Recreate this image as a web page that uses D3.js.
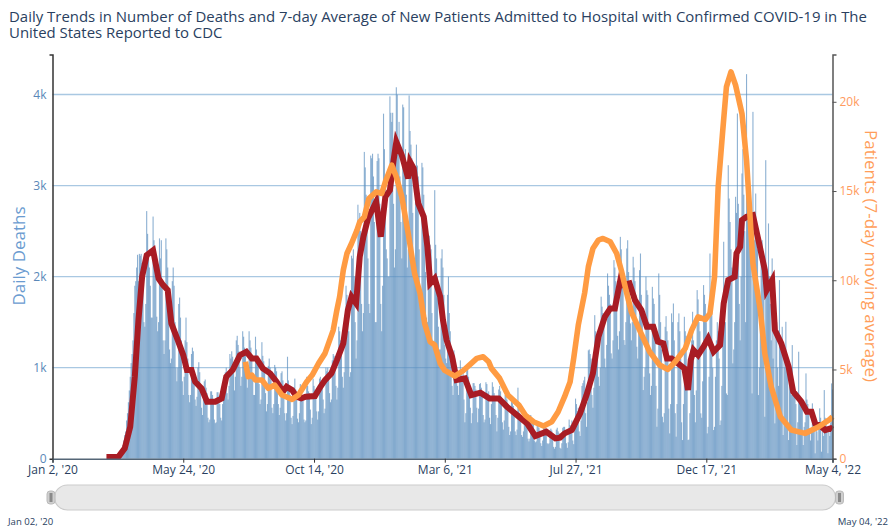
<!DOCTYPE html>
<html>
<head>
  <meta charset="utf-8">
  <title>Daily Trends in Deaths and Hospital Admissions</title>
  <script src="https://d3js.org/d3.v7.min.js"></script>
  <style>
    html,body{margin:0;padding:0;background:#fff;}
    svg{display:block;font-family:"Open Sans",sans-serif;}
  </style>
</head>
<body>
  <script>
    var titleLines=["Daily Trends in Number of Deaths and 7-day Average of New Patients Admitted to Hospital with Confirmed COVID-19 in The","United States Reported to CDC"];
    var startDate=new Date(2020,0,2);
    var endDate=new Date(2022,4,4);
    var xTickDates=[new Date(2020,0,2),new Date(2020,4,24),new Date(2020,9,14),new Date(2021,2,6),new Date(2021,6,27),new Date(2021,11,17),new Date(2022,4,4)];
    var xTickLabels=["Jan 2, '20","May 24, '20","Oct 14, '20","Mar 6, '21","Jul 27, '21","Dec 17, '21","May 4, '22"];
    var deathTicks=[0,1000,2000,3000,4000];
    var patientTicks=[0,5000,10000,15000,20000];

    // daily deaths, one row per week, first value is Mar 2 2020 (day 60)
    var firstBarDay=60;
    var dailyDeaths=[
      2,3,4,5,6,8,10,
      12,14,18,22,30,40,50,
      60,80,110,150,200,260,300,
      420,500,620,750,900,1050,1150,
      1300,1600,1900,1950,2100,2240,1950,
      2250,2230,2250,2150,1900,1500,1450,
      1700,2720,2470,2200,2100,1900,1550,
      1550,2660,2400,2300,2050,1560,1400,
      1500,2420,2200,2400,1900,1300,1150,
      1300,2420,2300,2100,1800,1200,1050,
      1100,1950,2100,1900,1500,1000,850,
      1000,1700,1770,1550,1300,850,700,
      900,1300,1550,1280,1100,700,620,
      700,1150,1220,1180,950,650,580,
      680,1000,1060,950,800,560,480,
      650,850,870,780,720,450,400,
      430,740,740,700,620,430,390,
      400,730,730,690,600,450,420,
      600,800,840,950,1000,720,650,
      800,1150,1100,1180,1120,950,750,
      900,1300,1350,1250,1180,1000,800,
      900,1400,1340,1220,1150,950,780,
      900,1400,1300,1220,1100,900,700,
      700,1340,1200,1100,1050,820,600,
      650,1280,1130,1070,950,720,520,
      600,1020,1100,1000,880,560,500,
      600,1030,1000,960,850,600,480,
      560,940,960,860,770,500,420,
      500,1120,860,800,700,450,380,
      470,780,880,760,650,440,400,
      500,820,760,700,660,430,400,
      420,900,800,740,720,540,380,
      450,880,800,760,690,520,430,
      520,880,900,830,800,650,500,
      550,1000,960,1000,930,720,620,
      650,1080,1150,1130,1020,800,650,
      780,1450,1400,1300,1230,900,780,
      950,1580,1900,1800,1700,1400,900,
      950,2230,2200,2300,2000,1500,1100,
      1300,2790,2500,2700,2500,1700,1400,
      1600,3370,3200,2900,2600,2200,1700,
      1600,3330,3300,3350,3100,2600,1500,
      1500,3270,3350,3300,2800,1700,1400,
      1900,3790,3400,3000,2300,2200,2000,
      2000,3980,3800,3700,3800,2800,2100,
      2300,4080,4000,3400,3700,3100,2600,
      2200,3890,3860,3300,3400,2900,2100,
      2300,3990,3600,3450,3300,2700,2200,
      2000,3040,3450,3220,3100,2300,1800,
      1800,3250,3200,2900,2700,2050,1550,
      1500,2400,2450,2350,2300,1600,1300,
      1250,2950,2350,2200,2000,1450,1200,
      1200,2200,2300,2100,1800,1250,1100,
      1050,1800,2000,1600,1400,1080,800,
      700,1190,1100,1010,950,800,700,
      900,1080,950,900,1000,650,400,
      500,970,980,900,830,560,390,
      500,830,830,800,760,560,400,
      550,820,830,780,720,480,400,
      430,840,820,720,740,450,380,
      600,840,790,720,660,480,300,
      450,760,800,740,680,400,320,
      420,700,730,650,550,350,260,
      300,640,610,580,480,300,260,
      320,780,560,500,450,260,240,
      300,500,470,430,400,220,190,
      220,480,440,380,380,200,180,
      190,400,390,340,310,170,140,
      200,340,360,370,300,170,160,
      170,310,330,310,280,130,110,
      130,320,340,300,280,120,110,
      170,340,350,350,310,170,120,
      180,430,370,360,420,200,160,
      300,660,600,520,560,300,250,
      420,800,830,860,900,500,350,
      620,1190,1200,1150,1100,700,560,
      780,1577,1400,1350,1300,900,800,
      1000,1780,1670,1600,1500,1100,1000,
      1250,2035,1900,1800,1700,1157,1100,
      1300,2181,2100,1950,1800,1350,1200,
      1400,2437,2300,2050,2000,1303,1250,
      1500,2309,2400,2050,1900,1486,1300,
      1500,2218,2100,1950,1800,1230,1100,
      1400,2071,2254,1800,1600,754,900,
      1000,2000,1850,1800,1500,937,700,
      800,1888,1760,1700,1400,800,351,
      550,2035,1800,1500,1200,461,400,
      500,1449,1566,1400,1300,550,278,
      600,1596,1500,1705,1300,500,242,
      600,1500,1596,1400,1100,400,205,
      600,1559,1400,1350,1000,205,210,
      500,1200,1300,1614,1300,700,400,
      750,1852,1750,1500,1400,498,450,
      850,1907,1800,1700,1500,278,350,
      900,2254,1700,1700,1000,315,350,
      900,1300,1500,1400,1100,370,420,
      800,1700,2383,1900,1500,717,700,
      3224,2858,2600,2300,2100,1047,1200,
      1500,2877,2700,3792,2800,1700,1300,
      2000,3133,3400,2900,2500,1500,4224,
      2700,3000,2700,2600,2500,717,3810,
      2600,2400,2913,2500,2300,699,1000,
      1500,2200,2400,2200,2100,461,3279,
      1900,2000,2584,2000,1700,1300,2200,
      1100,1600,388,1600,1500,1000,800,
      1962,1300,1200,1449,260,1100,1000,
      1504,1000,950,205,900,800,700,
      1248,800,750,700,600,150,400,
      1175,700,650,600,550,150,350,
      400,937,650,600,500,300,200,
      300,608,500,450,59,350,300,
      200,350,553,450,77,300,250,
      754,450,400,350,60,300,250,
      400,827,760
    ];

    // 7-day average deaths: days since Jan 2 2020 and values
    var deathAvgDays=[59,72,79,85,90,94,98,103,110,116,121,126,130,137,143,147,152,156,163,169,178,185,190,197,205,212,218,223,230,238,245,252,256,262,267,272,277,287,293,298,305,311,318,323,327,332,336,340,345,354,359,364,369,373,376,382,389,391,395,400,406,410,413,418,424,427,431,437,442,451,458,468,478,488,497,508,519,528,540,550,555,560,568,577,584,591,597,604,610,615,621,624,631,637,644,650,657,662,668,672,677,684,691,695,698,701,706,712,717,723,730,734,739,746,748,752,754,759,766,772,779,781,787,790,797,805,810,819,825,830,834,839,845,851,853];
    var deathAvgValues=[20,20,113,351,900,1523,2000,2236,2290,1980,1907,1852,1486,1303,1138,973,973,845,772,626,626,662,900,973,1138,1175,1102,1102,992,937,845,736,790,754,680,662,680,688,790,864,937,1083,1266,1632,1779,1706,2218,2438,2639,2822,2438,2877,2950,3279,3481,3334,3078,3261,3188,2804,2657,2328,1925,1980,1779,1523,1303,1120,864,882,699,725,662,662,571,479,388,249,296,223,230,278,315,498,699,937,1340,1559,1651,1651,1962,1907,1925,1742,1632,1449,1449,1285,1266,1102,1102,1047,992,754,1083,1193,1138,1230,1321,1175,1248,1706,1962,1998,2255,2328,2621,2657,2675,2401,2072,1852,1962,1413,1266,1010,736,626,516,516,388,370,315,333,320];

    // 7-day average patients admitted
    var patientDays=[211,214,218,222,229,236,243,251,262,269,278,284,291,298,307,311,314,318,322,327,333,336,341,346,354,360,364,371,376,382,389,396,402,407,413,418,424,429,440,449,458,464,471,477,480,489,498,510,517,526,537,546,553,560,566,570,575,582,586,591,597,602,610,617,622,628,633,642,653,664,673,681,692,699,706,714,719,724,728,733,737,742,747,754,759,766,774,779,786,796,808,823,838,850,853];
    var patientValues=[5432,4592,4687,4407,4407,3942,4127,3567,3326,3567,4312,4687,5342,5902,7207,8327,9073,10567,11500,12060,12807,13274,13554,14581,14954,14861,15514,16448,15794,14674,12620,10380,9260,7580,6553,6366,5340,4950,4630,4929,5340,5620,5713,5433,5060,4500,3566,3006,2446,2072,1830,2072,2632,3473,4300,5640,7490,9300,10754,11781,12247,12340,12154,11500,10567,9260,8233,7206,5993,5246,5003,5433,6180,7206,7953,7800,8140,10194,15234,18409,20836,21676,20929,19342,16728,10940,8327,5900,4033,2352,1606,1419,1792,2203,2350];

    var w=896, h=531;
    var plotLeft=52.5, plotRight=832.5, plotTop=54.5, plotBottom=458.7;

    var svg=d3.select("body").append("svg").attr("width",w).attr("height",h);

    var x=d3.scaleTime().domain([startDate,endDate]).range([plotLeft,plotRight]);
    var yDeaths=d3.scaleLinear().domain([0,4440]).range([plotBottom,plotTop]);
    var yPatients=d3.scaleLinear().domain([0,22650]).range([plotBottom,plotTop]);
    function dayToDate(d){return d3.timeDay.offset(startDate,d);}

    svg.selectAll(".title").data(titleLines).enter().append("text")
       .attr("x",9).attr("y",function(d,i){return 22+i*16;})
       .attr("font-size",14.95).attr("fill","#2a3f5f")
       .text(function(d){return d;});

    // grid first, bars are see-through on top of it
    svg.append("g").selectAll("line").data(deathTicks.slice(1)).enter().append("line")
       .attr("x1",plotLeft).attr("x2",plotRight)
       .attr("y1",function(d){return yDeaths(d);}).attr("y2",function(d){return yDeaths(d);})
       .attr("stroke","#a9c8e2").attr("stroke-width",1.4);

    // a bit wider than one day so neighbours overlap and fill in
    var barW=(x(dayToDate(1))-x(dayToDate(0)))*1.2;
    svg.append("g").selectAll("rect").data(dailyDeaths).enter().append("rect")
       .attr("x",function(d,i){return x(dayToDate(firstBarDay+i))-barW/2;})
       .attr("y",function(d){return yDeaths(d);})
       .attr("width",barW)
       .attr("height",function(d){return plotBottom-yDeaths(d);})
       .attr("fill","#5b8fbf").attr("fill-opacity",0.7);

    var deathLine=d3.line()
       .x(function(d,i){return x(dayToDate(deathAvgDays[i]));})
       .y(function(d){return yDeaths(d);});
    svg.append("path").attr("d",deathLine(deathAvgValues))
       .attr("fill","none").attr("stroke","#a81c24").attr("stroke-width",6).attr("stroke-linejoin","miter");

    var patientLine=d3.line()
       .x(function(d,i){return x(dayToDate(patientDays[i]));})
       .y(function(d){return yPatients(d);});
    svg.append("path").attr("d",patientLine(patientValues))
       .attr("fill","none").attr("stroke","#ff9b42").attr("stroke-width",5.6).attr("stroke-linejoin","round");

    var leftAxis=d3.axisLeft(yDeaths).tickValues(deathTicks).tickSizeInner(0).tickSizeOuter(3).tickPadding(6)
       .tickFormat(function(d){return d===0?"0":(d/1000)+"k";});
    var gl=svg.append("g").attr("transform","translate("+plotLeft+",0)").call(leftAxis);
    gl.select(".domain").attr("stroke","#333").attr("stroke-width",1.5);
    gl.selectAll("text").attr("font-family","Open Sans").attr("font-size",12).attr("fill","#5a88b8");

    var rightAxis=d3.axisRight(yPatients).tickValues(patientTicks).tickSize(4).tickPadding(3)
       .tickFormat(function(d){return d===0?"0":(d/1000)+"k";});
    var gr=svg.append("g").attr("transform","translate("+plotRight+",0)").call(rightAxis);
    gr.select(".domain").attr("stroke","#555").attr("stroke-width",1.5);
    gr.selectAll("line").attr("stroke","#555");
    gr.selectAll("text").attr("font-family","Open Sans").attr("font-size",12).attr("fill","#ff9b5e");

    var bottomAxis=d3.axisBottom(x).tickValues(xTickDates).tickSize(4).tickPadding(3)
       .tickFormat(function(d,i){return xTickLabels[i];});
    var gb=svg.append("g").attr("transform","translate(0,"+plotBottom+")").call(bottomAxis);
    gb.select(".domain").attr("stroke","#567").attr("stroke-width",1.5);
    gb.selectAll("line").attr("stroke","#333");
    gb.selectAll("text").attr("font-family","Open Sans").attr("font-size",12).attr("fill","#2a3f5f");

    svg.append("text").attr("transform","translate(25,256) rotate(-90)")
       .attr("text-anchor","middle").attr("font-size",17).attr("fill","#6a9bd0").text("Daily Deaths");
    svg.append("text").attr("transform","translate(865,256) rotate(90)")
       .attr("text-anchor","middle").attr("font-size",17).attr("fill","#ff9e5a").text("Patients (7-day moving average)");

    // range slider under the chart
    svg.append("rect").attr("x",plotLeft+2).attr("y",485).attr("width",plotRight-plotLeft+1).attr("height",25)
       .attr("rx",13).attr("fill","#e8e8e8").attr("stroke","#cbcbcb").attr("stroke-width",1.2);
    [plotLeft-1.5,plotRight+7].forEach(function(cx){
      svg.append("rect").attr("x",cx-4).attr("y",491).attr("width",8).attr("height",13).attr("rx",3)
         .attr("fill","#cfcfcf").attr("stroke","#bbb");
      svg.append("rect").attr("x",cx-1.5).attr("y",493).attr("width",3).attr("height",9).attr("fill","#8a8a8a");
    });
    svg.append("text").attr("x",8).attr("y",525).attr("font-size",9.6).attr("fill","#2a3f5f").text("Jan 02, '20");
    svg.append("text").attr("x",888).attr("y",525).attr("text-anchor","end").attr("font-size",9.6).attr("fill","#2a3f5f").text("May 04, '22");
  </script>
</body>
</html>
